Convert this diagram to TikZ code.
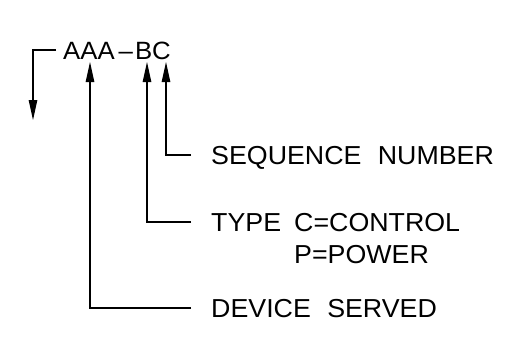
\documentclass[tikz,border=0pt]{standalone}
\usepackage{fontspec}
\setmainfont{Liberation Sans}
\newfontfamily\cad[FakeStretch=1.03,WordSpace=2.2]{Liberation Sans}
\usetikzlibrary{arrows.meta}
\begin{document}
\begin{tikzpicture}[x=1pt,y=-1pt,
  lbl/.style={anchor=base west,inner sep=0pt,font=\cad\fontsize{26}{26}\selectfont},
  ln/.style={line width=1.1pt},
  arr/.style={ln,-{Triangle[length=20pt,width=8.5pt]}}]
\useasboundingbox (0,0) rectangle (522,338);
\node[lbl,font=\cad\fontsize{25}{25}\selectfont] (code) at (63,59) {AAA{\kern4pt}–{\kern2pt}BC};
\node[lbl] (seq) at (211,164) {SEQUENCE NUMBER};
\node[lbl] (typ) at (211,231) {TYPE};
\node[lbl] (ctl) at (294,231) {C=CONTROL};
\node[lbl] (pwr) at (294,263) {P=POWER};
\node[lbl] (dev) at (211,317) {DEVICE SERVED};
\coordinate (bs) at (56,50);
\coordinate (bc) at (33,50);
\coordinate (bt) at (33,120);
\coordinate (ta) at (90,62);
\coordinate (tb) at (147,62);
\coordinate (tc) at (166,62);
\coordinate (ea) at (191,308);
\coordinate (eb) at (191,222);
\coordinate (ec) at (191,155);
\draw[arr] (bs) -- (bc) -- (bt);
\draw[arr] (ea) -| (ta);
\draw[arr] (eb) -| (tb);
\draw[arr] (ec) -| (tc);
\end{tikzpicture}
\end{document}
